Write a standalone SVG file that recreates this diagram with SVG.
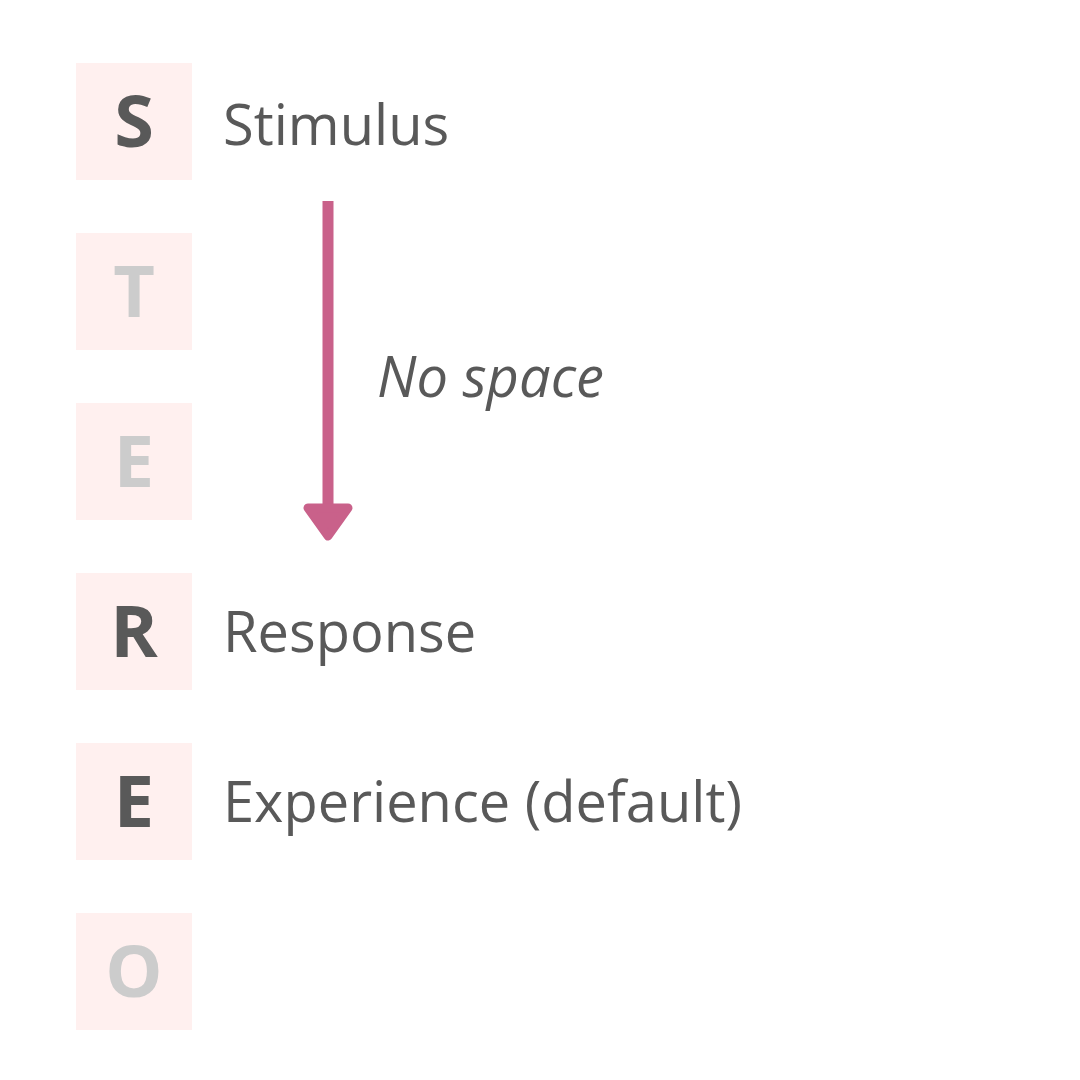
<svg xmlns="http://www.w3.org/2000/svg" width="1080" height="1080" viewBox="0 0 1080 1080">
<style>
.box{fill:#fff0ef}
.ltr{font-family:"Open Sans","Liberation Sans",sans-serif;font-weight:700;font-size:72px;text-anchor:middle}
.on{fill:#595959}
.off{fill:#cccccc}
.lbl{font-family:"Open Sans","Liberation Sans",sans-serif;font-size:56px;fill:#595959}
.it{font-style:italic}
</style>
<rect width="1080" height="1080" fill="#ffffff"/>
<g id="node-S"><rect class="box" x="76" y="63" width="116" height="117"/><text class="ltr on" x="134" y="147">S</text><text class="lbl" x="223" y="145">Stimulus</text></g>
<g id="node-T"><rect class="box" x="76" y="233" width="116" height="117"/><text class="ltr off" x="134" y="317">T</text></g>
<g id="node-E1"><rect class="box" x="76" y="403" width="116" height="117"/><text class="ltr off" x="134" y="487">E</text></g>
<g id="node-R"><rect class="box" x="76" y="573" width="116" height="117"/><text class="ltr on" x="134" y="657">R</text><text class="lbl" x="223" y="652">Response</text></g>
<g id="node-E2"><rect class="box" x="76" y="743" width="116" height="117"/><text class="ltr on" x="134" y="827">E</text><text class="lbl" x="223" y="822">Experience (default)</text></g>
<g id="node-O"><rect class="box" x="76" y="913" width="116" height="117"/><text class="ltr off" x="134" y="997">O</text></g>
<g id="connectors">
<line x1="328" y1="201" x2="328" y2="512" stroke="#c9618a" stroke-width="11"/>
<path d="M308 508 L348 508 L328 536 Z" fill="#c9618a" stroke="#c9618a" stroke-width="9" stroke-linejoin="round"/>
<text class="lbl it" x="377" y="397">No space</text>
</g>
</svg>
